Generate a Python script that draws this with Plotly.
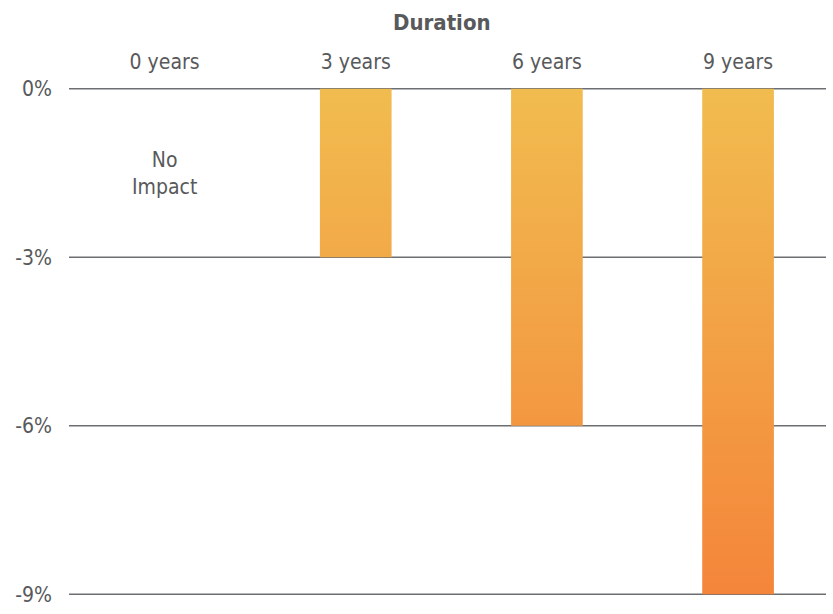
import plotly.graph_objects as go

categories = ["0 years", "3 years", "6 years", "9 years"]
values = [0, -3, -6, -9]
y_ticks = [0, -3, -6, -9]
y_tick_labels = ["0%", "-3%", "-6%", "-9%"]
note_text = "No<br>Impact"
axis_title = "Duration"

FONT = "Liberation Sans Narrow, DejaVu Sans Condensed, Roboto, sans-serif"
TXT = "#58595B"
BAR_W = 0.375

fig = go.Figure()
for t in y_ticks:
    fig.add_shape(type="line", xref="paper", x0=0, x1=1, yref="y", y0=t, y1=t,
                  line=dict(color="#6D6E71", width=1.5), layer="below")

for i, v in enumerate(values):
    if v == 0:
        continue
    x0, x1 = i - BAR_W / 2, i + BAR_W / 2
    fig.add_trace(go.Scatter(
        x=[x0, x1, x1, x0, x0], y=[0, 0, v, v, 0],
        mode="lines", line=dict(width=0), fill="toself",
        fillgradient=dict(type="vertical", start=-9, stop=0,
                          colorscale=[[0, "#F4853A"], [1, "#F1BC4F"]]),
        hoverinfo="skip", showlegend=False,
    ))

fig.add_annotation(x=0, y=-1.5, text=note_text, showarrow=False,
                   font=dict(family=FONT, size=21, color=TXT), align="center")
fig.add_annotation(x=0.493, xref="paper", y=1, yref="paper", yshift=80,
                   text="<b>" + axis_title + "</b>", showarrow=False,
                   font=dict(family=FONT, size=22, color=TXT))

fig.update_layout(
    width=833, height=614,
    margin=dict(l=69, r=7, t=88, b=16),
    plot_bgcolor="white", paper_bgcolor="white",
    font=dict(family=FONT, size=21, color=TXT),
    xaxis=dict(range=[-0.5, 3.46], side="top", tickvals=list(range(len(categories))),
               ticktext=categories, showgrid=False, zeroline=False, showline=False,
               ticks="", ticklabelstandoff=14, fixedrange=True),
    yaxis=dict(range=[-9.015, 0.015], tickvals=y_ticks, ticktext=y_tick_labels,
               showgrid=False, zeroline=False,
               showline=False, ticks="", ticklabelstandoff=16, fixedrange=True),
)

fig.write_html("out.html")
